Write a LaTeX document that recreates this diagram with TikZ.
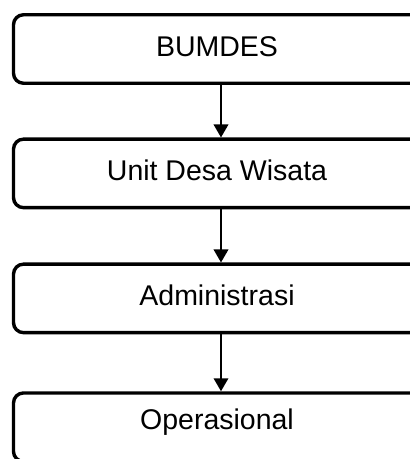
\documentclass[tikz,border=0pt]{standalone}
\usepackage{fontspec}
\setmainfont{Liberation Sans}
\usetikzlibrary{arrows.meta,calc}
\tikzset{
  orgbox/.style={draw=black, line width=3.4pt, rounded corners=10pt,
    rectangle, minimum width=407pt, minimum height=68.5pt, inner sep=0pt,
    font=\fontsize{28.5pt}{34pt}\selectfont, text height=21pt, text depth=7pt},
  flowarrow/.style={draw=black, line width=2pt,
    -{Triangle[width=14.5pt,length=13pt]}}
}
\begin{document}
\begin{tikzpicture}[x=1pt,y=-1pt]
\useasboundingbox (0,0) rectangle (410,459);
\clip (0,0) rectangle (410,459);
\node[orgbox] (b1) at (217,49) {BUMDES};
\node[orgbox] (b2) at (217,173.4) {Unit Desa Wisata};
\node[orgbox] (b3) at (217,298.4) {Administrasi};
\node[orgbox, text depth=16.7pt] (b4) at (217,427.2) {Operasional};
\draw[flowarrow] ([xshift=4pt]b1.south) -- ([xshift=4pt]b2.north);
\draw[flowarrow] ([xshift=4pt]b2.south) -- ([xshift=4pt]b3.north);
\draw[flowarrow] ([xshift=4pt]b3.south) -- ([xshift=4pt]b4.north);
\end{tikzpicture}
\end{document}
